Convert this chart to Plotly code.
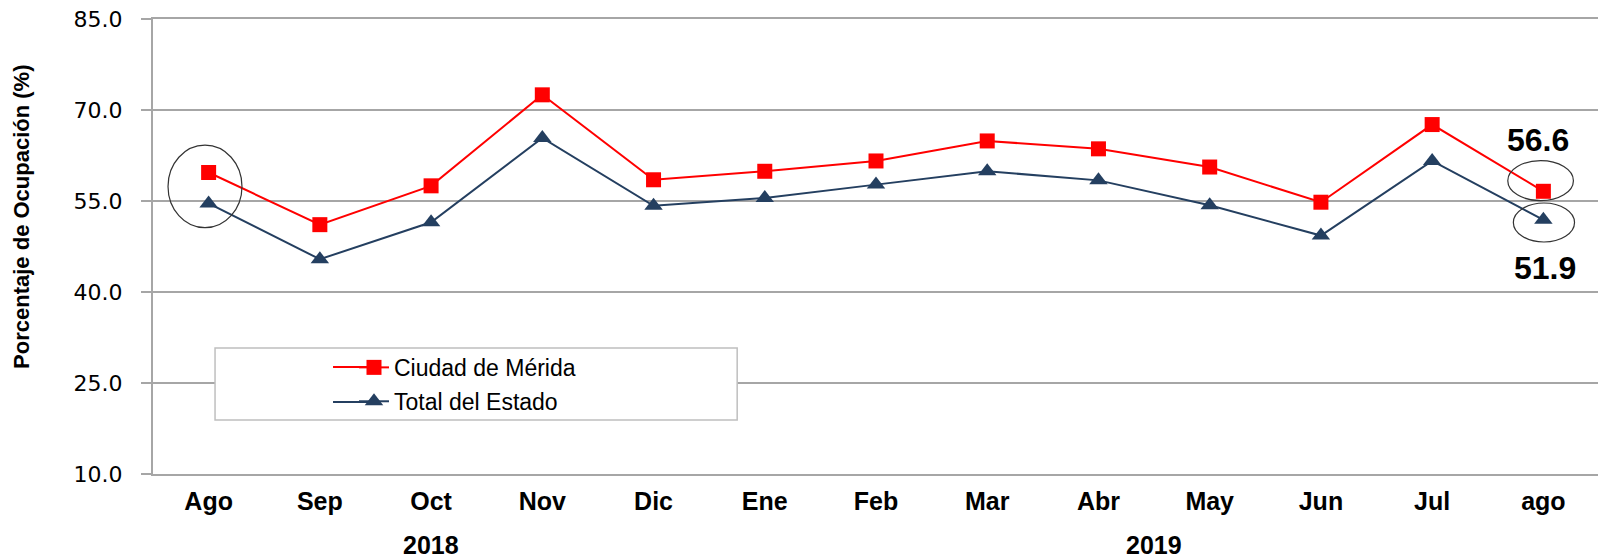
import plotly.graph_objects as go

months = ["Ago", "Sep", "Oct", "Nov", "Dic", "Ene", "Feb", "Mar", "Abr", "May", "Jun", "Jul", "ago"]
merida = [59.7, 51.1, 57.5, 72.5, 58.5, 59.9, 61.6, 64.9, 63.6, 60.6, 54.8, 67.6, 56.6]
estado = [54.6, 45.4, 51.5, 65.4, 54.2, 55.5, 57.7, 59.9, 58.4, 54.3, 49.3, 61.6, 51.9]
year_labels = ["2018", "2019"]
year_pos = [2, 8.5]
y_ticks = [10, 25, 40, 55, 70, 85]

RED = "#FF0000"
NAVY = "#243F60"
GRID = "#A6A6A6"
ARIAL = "Liberation Sans, Arial, sans-serif"

fig = go.Figure()
fig.add_trace(go.Scatter(
    x=months, y=merida, name="Ciudad de Mérida", mode="lines+markers", legendgroup="a",
    line=dict(color=RED, width=2),
    marker=dict(symbol="square", size=15, color=RED),
))
fig.add_trace(go.Scatter(
    x=months, y=estado, name="Total del Estado", mode="lines+markers", legendgroup="b",
    line=dict(color=NAVY, width=2),
    marker=dict(symbol="triangle-up", size=16, color=NAVY),
))

# Legend box
fig.add_shape(type="rect", xref="paper", yref="paper",
              x0=0.0429, x1=0.404, y0=0.1187, y1=0.277,
              line=dict(color="#BFBFBF", width=1.5), fillcolor="white", layer="above")
# longer legend sample lines
fig.add_shape(type="line", xref="paper", yref="paper", x0=0.1245, x1=0.150, y0=0.235, y1=0.235,
              line=dict(color=RED, width=2), layer="above")
fig.add_shape(type="line", xref="paper", yref="paper", x0=0.1245, x1=0.150, y0=0.158, y1=0.158,
              line=dict(color=NAVY, width=2), layer="above")

# Ellipses
ell = dict(color="#333333", width=1.2)
fig.add_shape(type="circle", xref="x", yref="y", x0=-0.365, x1=0.30, y0=50.6, y1=64.2, line=ell)
fig.add_shape(type="circle", xref="x", yref="y", x0=11.68, x1=12.27, y0=55.05, y1=61.64, line=ell)
fig.add_shape(type="circle", xref="x", yref="y", x0=11.73, x1=12.28, y0=48.24, y1=54.67, line=ell)

bold = dict(family=ARIAL, size=32, color="black")
fig.add_annotation(x=11.95, y=65.06, xref="x", yref="y", text="<b>%.1f</b>" % merida[-1],
                   showarrow=False, font=bold)
fig.add_annotation(x=12.01, y=43.9, xref="x", yref="y", text="<b>%.1f</b>" % estado[-1],
                   showarrow=False, font=bold)

# Year labels
for lbl, pos in zip(year_labels, year_pos):
    fig.add_annotation(x=pos, y=-0.155, xref="x", yref="paper", text="<b>%s</b>" % lbl,
                       showarrow=False, yanchor="middle",
                       font=dict(family=ARIAL, size=25, color="black"))

# Y axis title
fig.add_annotation(x=-0.0906, y=0.565, xref="paper", yref="paper",
                   text="<b>Porcentaje de Ocupación (%)</b>", textangle=-90, showarrow=False,
                   xanchor="center", yanchor="middle",
                   font=dict(family=ARIAL, size=22, color="black"))

# Source (cut at bottom)
fig.add_annotation(x=(117 - 153) / 1446, y=(474 - 550) / 455, xref="paper", yref="paper",
                   text="<b>Fuente: DataTur</b>", showarrow=False, xanchor="left", yanchor="top",
                   font=dict(family=ARIAL, size=20, color="black"))

fig.update_xaxes(
    type="category", range=[-0.5, 12.5], automargin=False,
    showline=True, linecolor=GRID, linewidth=2, mirror=True,
    showgrid=False, ticks="", ticklabelstandoff=4, ticklabeloverflow="allow",
    tickfont=dict(family=ARIAL, size=25, color="black"),
    tickvals=months, ticktext=["<b>%s</b>" % m for m in months],
)
fig.update_yaxes(
    range=[10, 85], tickvals=y_ticks, tickformat=".1f", automargin=False,
    showline=True, linecolor=GRID, linewidth=2, mirror=True,
    showgrid=True, gridcolor=GRID, gridwidth=1.5,
    ticks="outside", ticklen=10, tickcolor=GRID, tickwidth=1.5,
    ticklabelstandoff=14, zeroline=False, ticklabeloverflow="allow",
    tickfont=dict(family="DejaVu Sans, sans-serif", size=22, color="black"),
)

fig.update_layout(
    width=1606, height=556,
    margin=dict(l=145, r=15, t=11, b=90, autoexpand=False),
    paper_bgcolor="white", plot_bgcolor="white",
    showlegend=True,
    legend=dict(x=0.139, y=0.2815, xanchor="left", yanchor="top",
                bgcolor="rgba(0,0,0,0)", borderwidth=0,
                font=dict(family=ARIAL, size=23, color="black"),
                tracegroupgap=1),
)

fig.write_html("out.html")
